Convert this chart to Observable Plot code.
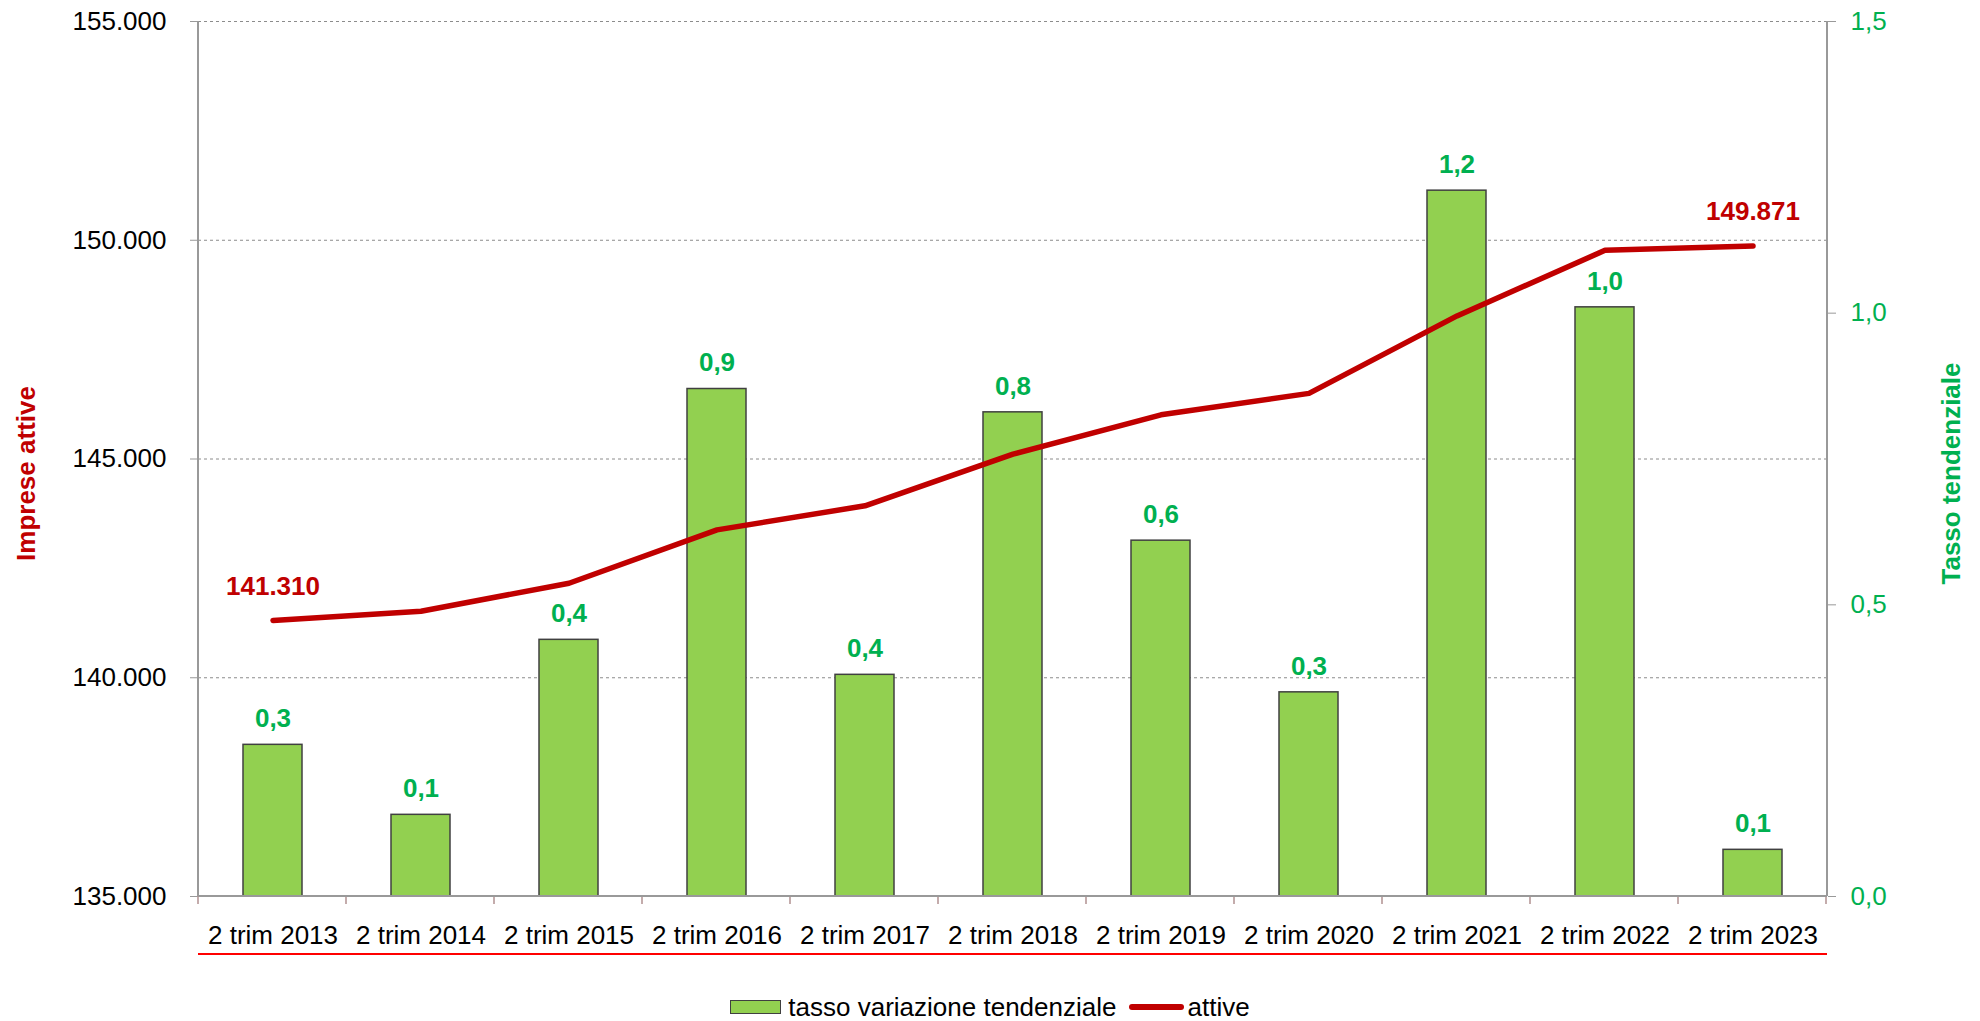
<!DOCTYPE html>
<html><head><meta charset="utf-8">
<script src="https://cdn.jsdelivr.net/npm/d3@7"></script>
<script src="https://cdn.jsdelivr.net/npm/@observablehq/plot@0.6"></script>
<style>
body{margin:0;background:#fff;font-family:"Liberation Sans",Arial,sans-serif;}
#wrap{position:relative;width:1980px;height:1021px;overflow:hidden;}
#legend{position:absolute;left:0;top:994px;width:1980px;height:26px;display:flex;justify-content:center;align-items:center;font-size:26px;line-height:1;color:#000;}
.sw{display:inline-block;width:49px;height:12px;background:#92D050;border:1.5px solid #404040;margin-right:7px;}
.ln{display:inline-block;width:55px;height:6px;background:#C00000;border-radius:3px;margin:0 3px 0 13px;}
</style></head><body>
<div id="wrap"><div id="chart"></div>
<div id="legend"><span class="sw"></span><span>tasso variazione tendenziale</span><span class="ln"></span><span>attive</span></div>
</div>
<script>
const periods = ["2 trim 2013","2 trim 2014","2 trim 2015","2 trim 2016","2 trim 2017","2 trim 2018","2 trim 2019","2 trim 2020","2 trim 2021","2 trim 2022","2 trim 2023"];
const tasso = [0.26, 0.14, 0.44, 0.87, 0.38, 0.83, 0.61, 0.35, 1.21, 1.01, 0.08];
const tassoLabels = ["0,3","0,1","0,4","0,9","0,4","0,8","0,6","0,3","1,2","1,0","0,1"];
const attive = [141310, 141520, 142160, 143380, 143930, 145110, 146010, 146500, 148270, 149770, 149871];
const attiveLabels = ["141.310","","","","","","","","","","149.871"];
const leftTicks = [135000, 140000, 145000, 150000, 155000];
const leftTickLabels = ["135.000","140.000","145.000","150.000","155.000"];
const rightTicks = [0, 0.5, 1.0, 1.5];
const rightTickLabels = ["0,0","0,5","1,0","1,5"];

const yMin = 135000, yMax = 155000, rMax = 1.5;
const toLeft = v => yMin + v / rMax * (yMax - yMin);
const data = periods.map((p, i) => ({period: p, tasso: tasso[i], tl: tassoLabels[i], attive: attive[i], al: attiveLabels[i]}));
const labeled = data.filter(d => d.al !== "");
const FONT = "'Liberation Sans', Arial, sans-serif";

const chart = Plot.plot({
  width: 1980,
  height: 975,
  marginLeft: 198,
  marginRight: 153,
  marginTop: 21,
  marginBottom: 79,
  style: {fontFamily: FONT, fontSize: "26px", background: "#fff"},
  x: {domain: periods, paddingInner: 0.6, paddingOuter: 0.3, label: null},
  y: {domain: [yMin, yMax], label: null},
  marks: [
    Plot.gridY(leftTicks.slice(1), {stroke: "#8c8c8c", strokeOpacity: 1, strokeWidth: 1, strokeDasharray: "3,3"}),
    Plot.barY(data, {x: "period", y1: yMin, y2: d => toLeft(d.tasso), fill: "#92D050", stroke: "#404040", strokeWidth: 1.5}),
    Plot.lineY(data, {x: "period", y: "attive", stroke: "#C00000", strokeWidth: 5.5, strokeLinecap: "round", strokeLinejoin: "round"}),
    Plot.text(data, {x: "period", y: d => toLeft(d.tasso), text: "tl", dy: -26, fill: "#00B050", fontWeight: "bold", fontSize: 26}),
    Plot.text(labeled, {x: "period", y: "attive", text: "al", dy: -34, fill: "#C00000", fontWeight: "bold", fontSize: 26}),
    Plot.axisY(leftTicks, {anchor: "left", tickSize: 8, tickPadding: 24, stroke: "#999", fill: "#000", fontSize: 26, label: null,
      tickFormat: d => leftTickLabels[leftTicks.indexOf(d)]}),
    Plot.axisY(rightTicks.map(toLeft), {anchor: "right", tickSize: 8, tickPadding: 15, stroke: "#999", fill: "#00B050", fontSize: 26, label: null,
      tickFormat: d => rightTickLabels[rightTicks.findIndex(t => Math.abs(toLeft(t) - d) < 1e-6)]}),
    Plot.axisX({tickSize: 0, tickPadding: 29, fill: "#000", fontSize: 26, label: null})
  ]
});

document.getElementById("chart").appendChild(chart);
const svgEl = chart.tagName.toLowerCase() === "svg" ? chart : chart.querySelector("svg");
const svg = d3.select(svgEl);
const xs = chart.scale("x"), ys = chart.scale("y");
const x0 = xs.range[0], x1 = xs.range[1], step = xs.step;
const yb = ys.apply(yMin), yt = ys.apply(yMax);
const g = svg.append("g");
// x ticks at band boundaries
for (let i = 0; i <= periods.length; i++) {
  const xx = x0 + i * step;
  g.append("line").attr("x1", xx).attr("x2", xx).attr("y1", yb).attr("y2", yb + 8)
    .attr("stroke", "#b09090").attr("stroke-width", 1.5);
}
// axis lines
g.append("line").attr("x1", x0).attr("x2", x1).attr("y1", yb).attr("y2", yb).attr("stroke", "#999").attr("stroke-width", 2);
g.append("line").attr("x1", x0).attr("x2", x0).attr("y1", yt).attr("y2", yb).attr("stroke", "#999").attr("stroke-width", 2);
g.append("line").attr("x1", x1).attr("x2", x1).attr("y1", yt).attr("y2", yb).attr("stroke", "#999").attr("stroke-width", 2);
// red underline below the category labels
g.append("line").attr("x1", x0).attr("x2", x1).attr("y1", yb + 58).attr("y2", yb + 58).attr("stroke", "#FF0000").attr("stroke-width", 2.2);
// axis titles
const cy = (yt + yb) / 2 + 15;
g.append("text").attr("transform", `translate(26,${cy}) rotate(-90)`).attr("text-anchor", "middle").attr("dominant-baseline", "central")
  .attr("fill", "#C00000").attr("font-weight", "bold").attr("font-size", 26).attr("font-family", FONT).text("Imprese attive");
g.append("text").attr("transform", `translate(1951,${cy}) rotate(-90)`).attr("text-anchor", "middle").attr("dominant-baseline", "central")
  .attr("fill", "#00B050").attr("font-weight", "bold").attr("font-size", 26).attr("font-family", FONT).text("Tasso tendenziale");
</script>
</body></html>
